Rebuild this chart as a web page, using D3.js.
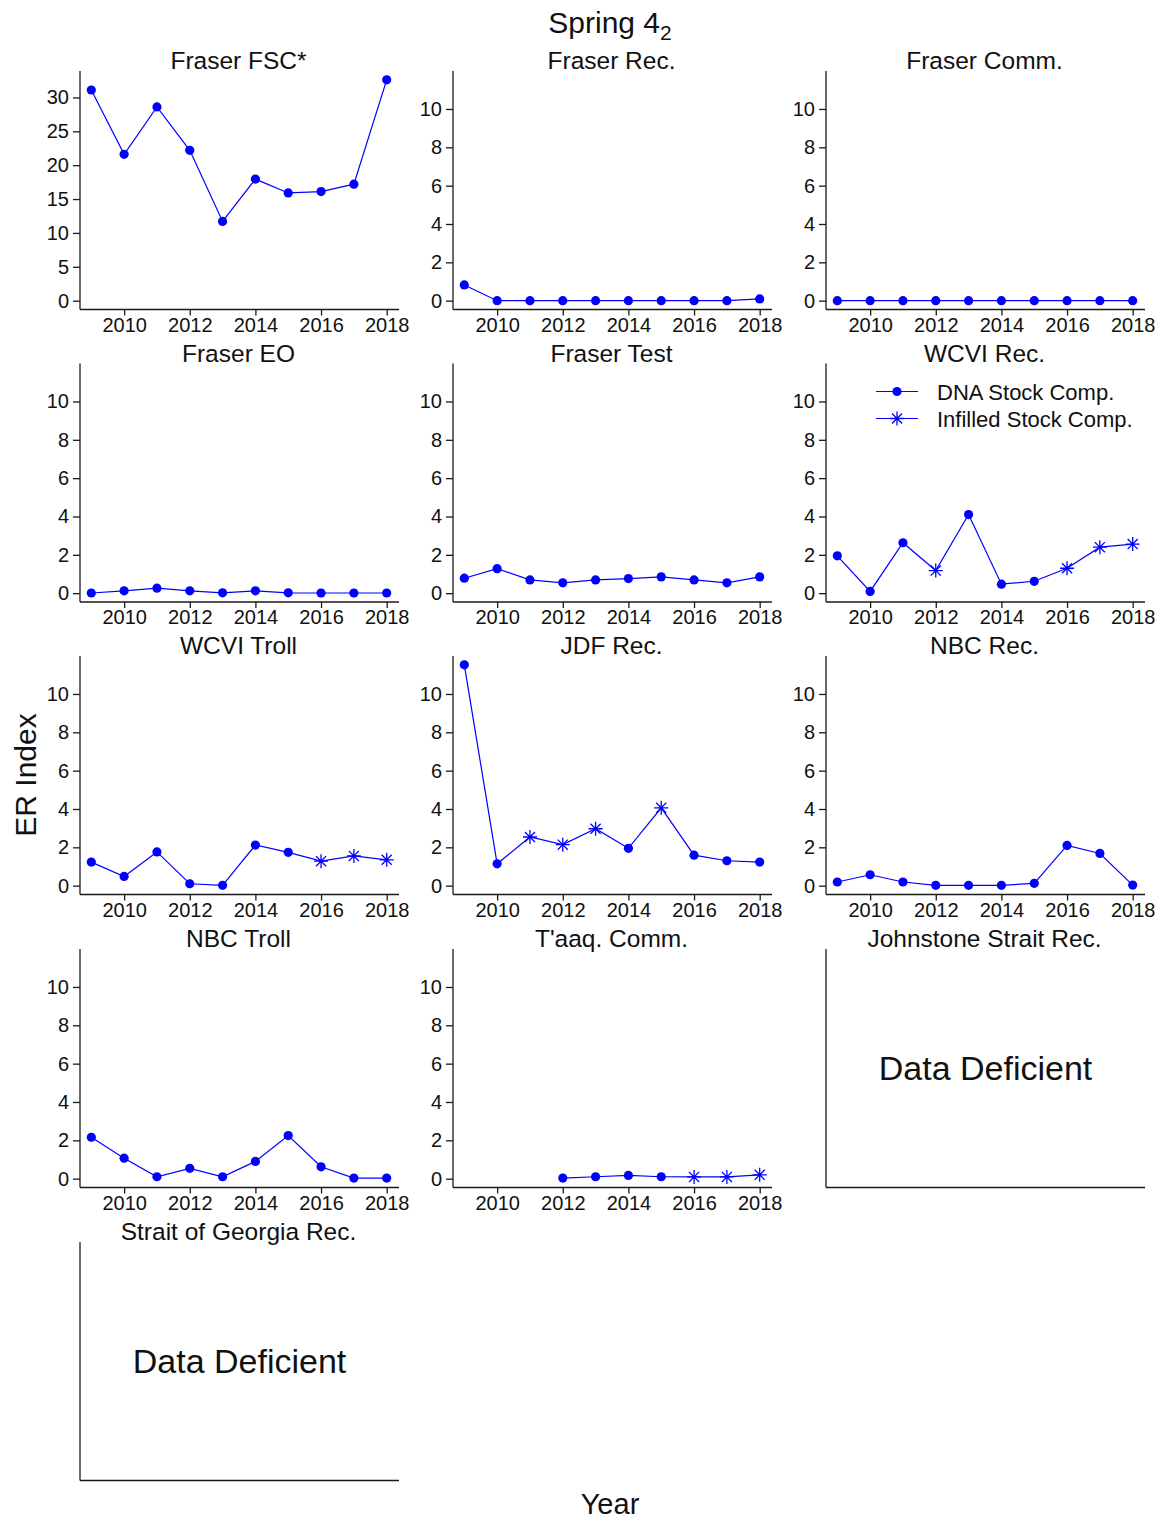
<!DOCTYPE html>
<html>
<head>
<meta charset="utf-8">
<script src="https://cdn.jsdelivr.net/npm/d3@7"></script>
<style>
  html, body { margin: 0; padding: 0; background: #fff; }
  svg { display: block; font-family: "Liberation Sans", Arial, sans-serif; }
</style>
</head>
<body>
<svg id="chart" width="1160" height="1521"></svg>
<script>
// ---------------- data ----------------
const years = [2009, 2010, 2011, 2012, 2013, 2014, 2015, 2016, 2017, 2018];
const xTickYears = [2010, 2012, 2014, 2016, 2018];
const yTicksFSC = [0, 5, 10, 15, 20, 25, 30];
const yTicksCommon = [0, 2, 4, 6, 8, 10];

// "D" = DNA stock comp., "I" = infilled stock comp.
const fraserFSC      = [31.1, 21.6, 28.6, 22.2, 11.7, 17.95, 15.9, 16.1, 17.2, 32.6];
const fraserFSCType  = ["D","D","D","D","D","D","D","D","D","D"];
const fraserRec      = [0.82, 0, 0, 0, 0, 0, 0, 0, 0, 0.09];
const fraserRecType  = ["D","D","D","D","D","D","D","D","D","D"];
const fraserComm     = [0, 0, 0, 0, 0, 0, 0, 0, 0, 0];
const fraserCommType = ["D","D","D","D","D","D","D","D","D","D"];
const fraserEO       = [0.01, 0.12, 0.26, 0.12, 0.02, 0.12, 0.02, 0.01, 0.01, 0.01];
const fraserEOType   = ["D","D","D","D","D","D","D","D","D","D"];
const fraserTest     = [0.78, 1.28, 0.69, 0.54, 0.69, 0.76, 0.85, 0.69, 0.54, 0.85];
const fraserTestType = ["D","D","D","D","D","D","D","D","D","D"];
const wcviRec        = [1.95, 0.09, 2.63, 1.18, 4.1, 0.47, 0.62, 1.3, 2.4, 2.56];
const wcviRecType    = ["D","D","D","I","D","D","D","I","I","I"];
const wcviTroll      = [1.23, 0.48, 1.76, 0.1, 0.02, 2.12, 1.74, 1.28, 1.55, 1.35];
const wcviTrollType  = ["D","D","D","D","D","D","D","I","I","I"];
const jdfRec         = [11.52, 1.14, 2.54, 2.14, 2.97, 1.95, 4.06, 1.59, 1.3, 1.23];
const jdfRecType     = ["D","D","I","I","I","D","I","D","D","D"];
const nbcRec         = [0.19, 0.57, 0.19, 0.02, 0.02, 0.02, 0.12, 2.1, 1.68, 0.03];
const nbcRecType     = ["D","D","D","D","D","D","D","D","D","D"];
const nbcTroll       = [2.16, 1.07, 0.1, 0.54, 0.1, 0.9, 2.25, 0.62, 0.03, 0.03];
const nbcTrollType   = ["D","D","D","D","D","D","D","D","D","D"];
const taaqComm       = [null, null, null, 0.03, 0.1, 0.17, 0.1, 0.09, 0.09, 0.2];
const taaqCommType   = [null, null, null, "D","D","D","D","I","I","I"];

const legendLabels = ["DNA Stock Comp.", "Infilled Stock Comp."];

const panels = [
  { title: "Fraser FSC*", values: fraserFSC, types: fraserFSCType, ticks: yTicksFSC, max: 32.6 },
  { title: "Fraser Rec.", values: fraserRec, types: fraserRecType },
  { title: "Fraser Comm.", values: fraserComm, types: fraserCommType },
  { title: "Fraser EO", values: fraserEO, types: fraserEOType },
  { title: "Fraser Test", values: fraserTest, types: fraserTestType },
  { title: "WCVI Rec.", values: wcviRec, types: wcviRecType, legend: true },
  { title: "WCVI Troll", values: wcviTroll, types: wcviTrollType },
  { title: "JDF Rec.", values: jdfRec, types: jdfRecType },
  { title: "NBC Rec.", values: nbcRec, types: nbcRecType },
  { title: "NBC Troll", values: nbcTroll, types: nbcTrollType },
  { title: "T'aaq. Comm.", values: taaqComm, types: taaqCommType },
  { title: "Johnstone Strait Rec.", deficient: true },
  { title: "Strait of Georgia Rec.", deficient: true }
];

// ---------------- layout ----------------
const svg = d3.select("#chart");
const colLeft = [80, 453, 826];
const rowTop = [71, 363.5, 656, 949, 1242];
const plotW = 319, plotH = 238.5;
const blue = "#0000ff";
const axisColor = "#1a1a1a";
const textColor = "#111";
const commonMax = 11.52;

function drawMarker(g, type, x, y) {
  if (type === "D") {
    g.append("circle").attr("cx", x).attr("cy", y).attr("r", 4.6).attr("fill", blue);
  } else if (type === "I") {
    const s = 7, d = s * 0.72;
    const p = `M${x - s},${y}H${x + s}M${x},${y - s}V${y + s}` +
              `M${x - d},${y - d}L${x + d},${y + d}M${x - d},${y + d}L${x + d},${y - d}`;
    g.append("path").attr("d", p).attr("stroke", blue).attr("stroke-width", 1.3).attr("fill", "none");
  }
}

panels.forEach((p, i) => {
  const col = i % 3, row = Math.floor(i / 3);
  const left = colLeft[col], top = rowTop[row];
  const bottom = top + plotH, right = left + plotW;
  const g = svg.append("g");

  // title
  g.append("text")
    .attr("x", left + plotW / 2 - 1).attr("y", top - 2)
    .attr("text-anchor", "middle").attr("font-size", 24.5).attr("fill", textColor)
    .text(p.title);

  // axis lines (L-shape)
  g.append("line").attr("x1", left).attr("x2", left).attr("y1", top).attr("y2", bottom)
    .attr("stroke", axisColor).attr("stroke-width", 1.3);
  g.append("line").attr("x1", left).attr("x2", right).attr("y1", bottom).attr("y2", bottom)
    .attr("stroke", axisColor).attr("stroke-width", 1.3);

  if (p.deficient) {
    g.append("text")
      .attr("x", left + plotW / 2).attr("y", (top + bottom) / 2 + 12)
      .attr("text-anchor", "middle").attr("font-size", 34).attr("fill", textColor)
      .text("Data Deficient");
    return;
  }

  const maxV = p.max !== undefined ? p.max : commonMax;
  const pad = maxV * 0.04;
  const x = d3.scaleLinear().domain([2008.64, 2018.36]).range([left - 0.5, right - 0.5]);
  const y = d3.scaleLinear().domain([-pad, maxV + pad]).range([bottom, top]);
  const ticks = p.ticks || yTicksCommon;

  // y axis
  const yAxis = d3.axisLeft(y).tickValues(ticks).tickSize(7).tickPadding(4).tickFormat(d3.format("d"));
  const ya = g.append("g").attr("transform", `translate(${left},0)`).call(yAxis);
  ya.select(".domain").remove();
  ya.selectAll(".tick line").attr("stroke", axisColor).attr("stroke-width", 1.3);
  ya.selectAll(".tick text").attr("font-size", 20).attr("fill", textColor)
    .attr("font-family", "Liberation Sans, Arial, sans-serif");

  // x axis
  const xAxis = d3.axisBottom(x).tickValues(xTickYears).tickSize(6).tickPadding(2).tickFormat(d3.format("d"));
  const xa = g.append("g").attr("transform", `translate(0,${bottom})`).call(xAxis);
  xa.select(".domain").remove();
  xa.selectAll(".tick line").attr("stroke", axisColor).attr("stroke-width", 1.3);
  xa.selectAll(".tick text").attr("font-size", 20).attr("fill", textColor)
    .attr("font-family", "Liberation Sans, Arial, sans-serif");

  // data
  const pts = years.map((yr, k) => ({ yr, v: p.values[k], t: p.types[k] }));
  const line = d3.line().defined(d => d.v !== null).x(d => x(d.yr)).y(d => y(d.v));
  g.append("path").datum(pts).attr("d", line)
    .attr("fill", "none").attr("stroke", blue).attr("stroke-width", 1.2);
  pts.filter(d => d.v !== null).forEach(d => drawMarker(g, d.t, x(d.yr), y(d.v)));

  if (p.legend) {
    const lx0 = left + 50, lx1 = left + 92, lxm = (lx0 + lx1) / 2;
    const rows = [top + 28, top + 55];
    ["D", "I"].forEach((t, k) => {
      g.append("line").attr("x1", lx0).attr("x2", lx1).attr("y1", rows[k]).attr("y2", rows[k])
        .attr("stroke", blue).attr("stroke-width", 1.2);
      drawMarker(g, t, lxm, rows[k]);
      g.append("text").attr("x", left + 111).attr("y", rows[k] + 8)
        .attr("font-size", 22).attr("fill", textColor).text(legendLabels[k]);
    });
  }
});

// main title
const title = svg.append("text").attr("x", 610).attr("y", 33).attr("text-anchor", "middle")
  .attr("font-size", 30).attr("fill", textColor);
title.append("tspan").text("Spring 4");
title.append("tspan").attr("font-size", 21).attr("dy", 7).text("2");

// axis labels
svg.append("text").attr("transform", "translate(36,775) rotate(-90)")
  .attr("text-anchor", "middle").attr("font-size", 30).attr("fill", textColor).text("ER Index");
svg.append("text").attr("x", 610).attr("y", 1514).attr("text-anchor", "middle")
  .attr("font-size", 29).attr("fill", textColor).text("Year");
</script>
</body>
</html>
